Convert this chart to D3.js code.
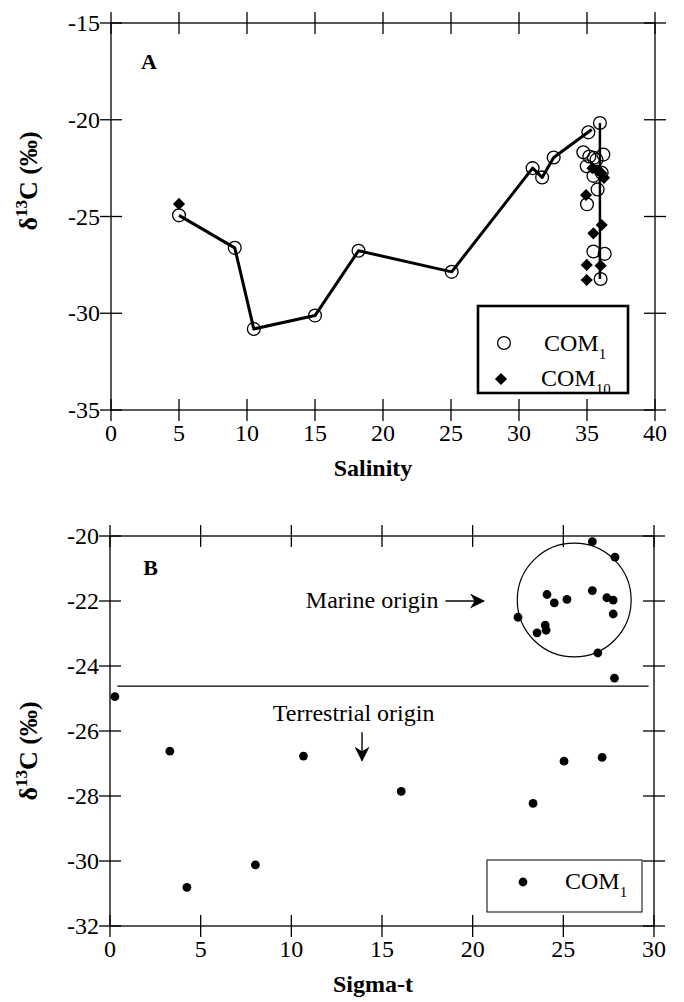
<!DOCTYPE html>
<html><head><meta charset="utf-8">
<script src="https://cdn.jsdelivr.net/npm/d3@7/dist/d3.min.js"></script>
<style>
body{margin:0;background:#fff;}
svg text{font-family:"Liberation Serif","DejaVu Serif",serif;}
</style></head>
<body>
<svg id="c" width="684" height="1002" font-family="Liberation Serif, DejaVu Serif, serif"></svg>
<script>
// ---------- DATA ----------
// COM1: delta13C with salinity (panel A) and sigma-t (panel B)
const com1Delta   = [-24.94,-26.62,-30.81,-30.12,-26.77,-27.86,-22.5,-22.98,-21.95,-20.65,-20.17,-21.8,-21.68,-22.06,-21.9,-21.97,-22.4,-22.74,-22.9,-23.6,-24.37,-28.23,-26.93,-26.81];
const com1Salinity= [5.0,9.1,10.5,15.0,18.2,25.05,31.0,31.7,32.55,35.1,35.95,36.2,34.73,35.7,35.17,35.5,34.98,36.08,35.47,35.78,35.0,36.0,36.3,35.47];
const com1SigmaT  = [0.27,3.3,4.24,8.02,10.67,16.06,22.5,23.55,25.2,27.85,26.6,24.1,26.6,24.5,27.4,27.75,27.75,24.0,24.05,26.9,27.82,23.33,25.04,27.14];
// COM10 (panel A)
const com10Salinity = [5.0,34.93,35.4,35.75,36.05,36.25,36.08,35.47,34.98,36.0,34.98];
const com10Delta    = [-24.35,-23.89,-22.5,-22.62,-22.75,-23.0,-25.44,-25.87,-27.5,-27.54,-28.28];
// Mixing lines (panel A)
const lineASal   = [5.0,9.1,10.5,15.0,18.2,25.05,31.0,31.7,32.55,35.35];
const lineADelta = [-24.94,-26.62,-30.81,-30.12,-26.77,-27.86,-22.5,-22.98,-21.95,-20.5];
const vertLineSal   = [35.95,35.95];
const vertLineDelta = [-20.17,-28.23];
// Panel B annotations
const boundaryDelta = -24.62;           // marine / terrestrial boundary
const boundarySigma = [0.4,29.7];
const marineCircle = {cx:25.6, cy:-21.97, rx:3.14, ry:1.75};
// Ticks
const xTicksA = [0,5,10,15,20,25,30,35,40];
const yTicksA = [-35,-30,-25,-20,-15];
const xTicksB = [0,5,10,15,20,25,30];
const yTicksB = [-32,-30,-28,-26,-24,-22,-20];

// ---------- DRAW ----------
const svg = d3.select("#c");
const FS = 24;

function frame(g, x, y, xt, yt){
  const [x0,x1]=x.range(), [y0,y1]=y.range();
  g.append("rect").attr("x",x0).attr("y",y1).attr("width",x1-x0).attr("height",y0-y1)
   .attr("fill","none").attr("stroke","#000").attr("stroke-width",1.3);
  const T=11;
  xt.forEach(v=>{
    const px=x(v);
    g.append("line").attr("x1",px).attr("x2",px).attr("y1",y0-T).attr("y2",y0+T).attr("stroke","#000").attr("stroke-width",1.3);
    g.append("line").attr("x1",px).attr("x2",px).attr("y1",y1-T).attr("y2",y1+T).attr("stroke","#000").attr("stroke-width",1.3);
    g.append("text").attr("x",px).attr("y",y0+31).attr("text-anchor","middle").attr("font-size",FS).text(v);
  });
  yt.forEach(v=>{
    const py=y(v);
    g.append("line").attr("x1",x0-T).attr("x2",x0+T).attr("y1",py).attr("y2",py).attr("stroke","#000").attr("stroke-width",1.3);
    g.append("line").attr("x1",x1-T).attr("x2",x1+T).attr("y1",py).attr("y2",py).attr("stroke","#000").attr("stroke-width",1.3);
    g.append("text").attr("x",x0-11).attr("y",py+8).attr("text-anchor","end").attr("font-size",FS).text(v);
  });
}
function yTitle(g, cx, cy){
  const t=g.append("text").attr("transform",`translate(${cx},${cy}) rotate(-90)`)
    .attr("text-anchor","middle").attr("font-size",26).attr("font-weight","bold");
  t.append("tspan").text("δ");
  t.append("tspan").attr("font-size",17).attr("dy",-10).text("13");
  t.append("tspan").attr("dy",10).text("C  (‰)");
}

// ===== Panel A =====
const xA = d3.scaleLinear().domain([0,40]).range([111,655]);
const yA = d3.scaleLinear().domain([-35,-15]).range([410,23]);
const gA = svg.append("g");
frame(gA,xA,yA,xTicksA,yTicksA);
yTitle(gA,37,181);
gA.append("text").attr("x",373).attr("y",476).attr("text-anchor","middle")
  .attr("font-size",FS).attr("font-weight","bold").text("Salinity");
gA.append("text").attr("x",xA(2.2)).attr("y",yA(-17.4)).attr("font-size",22).attr("font-weight","bold").text("A");

const lineGen = d3.line();
gA.append("path").attr("d",lineGen(lineASal.map((s,i)=>[xA(s),yA(lineADelta[i])])))
  .attr("fill","none").attr("stroke","#000").attr("stroke-width",3).attr("stroke-linejoin","round");
gA.append("path").attr("d",lineGen(vertLineSal.map((s,i)=>[xA(s),yA(vertLineDelta[i])])))
  .attr("fill","none").attr("stroke","#000").attr("stroke-width",2.5);

gA.selectAll("circle.c1").data(com1Delta).join("circle").attr("class","c1")
  .attr("cx",(d,i)=>xA(com1Salinity[i])).attr("cy",d=>yA(d)).attr("r",6.4)
  .attr("fill","none").attr("stroke","#000").attr("stroke-width",1.3);
const diamond = d3.symbol().type(d3.symbolSquare).size(74);
gA.selectAll("path.c10").data(com10Delta).join("path").attr("class","c10")
  .attr("d",diamond).attr("transform",(d,i)=>`translate(${xA(com10Salinity[i])},${yA(d)}) rotate(45)`)
  .attr("fill","#000");

// legend A
const lgA = gA.append("g");
lgA.append("rect").attr("x",478).attr("y",306).attr("width",150).attr("height",87)
  .attr("fill","#fff").attr("stroke","#000").attr("stroke-width",2.6);
lgA.append("circle").attr("cx",504).attr("cy",343).attr("r",6.4).attr("fill","none").attr("stroke","#000").attr("stroke-width",1.3);
const tA1=lgA.append("text").attr("x",544).attr("y",351).attr("font-size",FS);
tA1.append("tspan").text("COM"); tA1.append("tspan").attr("font-size",15).attr("dy",8).text("1");
lgA.append("path").attr("d",diamond).attr("transform","translate(501,379) rotate(45)").attr("fill","#000");
const tA2=lgA.append("text").attr("x",541).attr("y",386).attr("font-size",FS);
tA2.append("tspan").text("COM"); tA2.append("tspan").attr("font-size",15).attr("dy",8).text("10");

// ===== Panel B =====
const xB = d3.scaleLinear().domain([0,30]).range([110,654]);
const yB = d3.scaleLinear().domain([-32,-20]).range([926,536]);
const gB = svg.append("g");
frame(gB,xB,yB,xTicksB,yTicksB);
yTitle(gB,37,751);
gB.append("text").attr("x",373).attr("y",992).attr("text-anchor","middle")
  .attr("font-size",FS).attr("font-weight","bold").text("Sigma-t");
gB.append("text").attr("x",xB(1.84)).attr("y",yB(-21.2)).attr("font-size",22).attr("font-weight","bold").text("B");

gB.append("line").attr("x1",xB(boundarySigma[0])).attr("x2",xB(boundarySigma[1]))
  .attr("y1",yB(boundaryDelta)).attr("y2",yB(boundaryDelta)).attr("stroke","#000").attr("stroke-width",1.2);
gB.append("ellipse").attr("cx",xB(marineCircle.cx)).attr("cy",yB(marineCircle.cy))
  .attr("rx",xB(marineCircle.cx+marineCircle.rx)-xB(marineCircle.cx))
  .attr("ry",yB(marineCircle.cy)-yB(marineCircle.cy+marineCircle.ry))
  .attr("fill","none").attr("stroke","#000").attr("stroke-width",1.2);

gB.selectAll("circle.p").data(com1Delta).join("circle").attr("class","p")
  .attr("cx",(d,i)=>xB(com1SigmaT[i])).attr("cy",d=>yB(d)).attr("r",4.4).attr("fill","#000");

// annotations
svg.append("defs").append("marker").attr("id","ah").attr("viewBox","0 0 10 10")
  .attr("refX",9).attr("refY",5).attr("markerWidth",15).attr("markerHeight",15)
  .attr("markerUnits","userSpaceOnUse").attr("orient","auto")
  .append("path").attr("d","M0,0 L10,5 L0,10 L3,5 Z").attr("fill","#000");
gB.append("text").attr("x",xB(10.8)).attr("y",yB(-22.2)).attr("font-size",FS).text("Marine origin");
gB.append("line").attr("x1",xB(18.5)).attr("x2",xB(20.6)).attr("y1",yB(-22.0)).attr("y2",yB(-22.0))
  .attr("stroke","#000").attr("stroke-width",1.4).attr("marker-end","url(#ah)");
gB.append("text").attr("x",xB(8.98)).attr("y",yB(-25.7)).attr("font-size",FS).text("Terrestrial origin");
gB.append("line").attr("x1",xB(13.9)).attr("x2",xB(13.9)).attr("y1",yB(-26.04)).attr("y2",yB(-26.9))
  .attr("stroke","#000").attr("stroke-width",1.4).attr("marker-end","url(#ah)");

// legend B
const lgB = gB.append("g");
lgB.append("rect").attr("x",487).attr("y",860).attr("width",155).attr("height",52)
  .attr("fill","#fff").attr("stroke","#000").attr("stroke-width",1);
lgB.append("circle").attr("cx",523).attr("cy",882).attr("r",4.4).attr("fill","#000");
const tB=lgB.append("text").attr("x",565).attr("y",889).attr("font-size",FS);
tB.append("tspan").text("COM"); tB.append("tspan").attr("font-size",15).attr("dy",8).text("1");
</script>
</body></html>
